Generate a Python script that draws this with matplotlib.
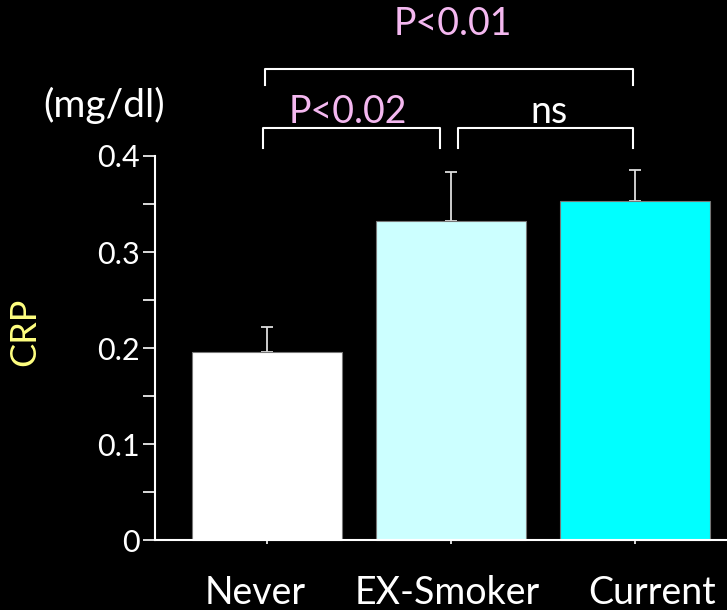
import matplotlib.pyplot as plt
from matplotlib.transforms import ScaledTranslation
import numpy as np

plt.rcParams['font.family'] = ['Lato', 'DejaVu Sans']

groups = ['Never', 'EX-Smoker', 'Current']
crp = [0.196, 0.332, 0.353]
err = [0.026, 0.051, 0.032]
bar_colors = ['#ffffff', '#ccffff', '#00ffff']

pink = '#f4b8f0'
fig = plt.figure(figsize=(7.27, 6.10), dpi=100, facecolor='black')
ax = fig.add_axes([155 / 727, 70 / 610, 572 / 727, 384 / 610], facecolor='black')

x = np.arange(len(groups))
ax.bar(x, crp, width=0.815, color=bar_colors, edgecolor='#777777', linewidth=0.8,
       zorder=2, clip_on=False)
ax.errorbar(x, crp, yerr=[np.zeros(3), err], fmt='none', ecolor='#dddddd',
            elinewidth=1.3, capsize=4, capthick=1.3, zorder=1, clip_on=False)

ax.set_xlim(-0.609, 2.5)
ax.set_ylim(0, 0.4)
ax.set_yticks([0, 0.1, 0.2, 0.3, 0.4])
ax.set_yticklabels(['0', '0.1', '0.2', '0.3', '0.4'])
ax.set_yticks(np.arange(0.05, 0.4, 0.1), minor=True)
ax.set_xticks(x)
ax.set_xticklabels(groups)

for s in ['top', 'right']:
    ax.spines[s].set_visible(False)
for s in ['left', 'bottom']:
    ax.spines[s].set_color('white')
    ax.spines[s].set_linewidth(1.5)
ax.tick_params(axis='y', which='both', colors='white', length=9, width=1.2,
               labelsize=22, pad=2)
ax.tick_params(axis='x', colors='white', length=3, width=1.2, labelsize=27, pad=22)

# labels in the original sit a little off the tick centres
for lab, dx in zip(ax.get_xticklabels(), [-12, -4, 17]):
    lab.set_transform(lab.get_transform() + ScaledTranslation(dx / 100, 0, fig.dpi_scale_trans))

ax.set_ylabel('CRP', color='#ffff80', fontsize=26)
ax.yaxis.set_label_coords((25 - 155) / 572, (540 - 332) / 384)
ax.yaxis.label.set_va('center')
fig.text(104 / 727, 1 - 105 / 610, '(mg/dl)', color='white', fontsize=28,
         ha='center', va='center')

# significance brackets
def bracket(x0, x1, y, leg):
    ax.plot([x0, x0, x1, x1], [y - leg, y, y, y - leg], color='white', lw=1.5,
            clip_on=False)

bracket(-0.01, 1.99, 0.4906, 0.017)
bracket(-0.02, 0.94, 0.429, 0.021)
bracket(1.04, 1.99, 0.429, 0.021)
ax.text(1.01, 0.538, 'P<0.01', color=pink, fontsize=27, ha='center', va='center',
        clip_on=False)
ax.text(0.44, 0.446, 'P<0.02', color=pink, fontsize=27, ha='center', va='center',
        clip_on=False)
ax.text(1.53, 0.446, 'ns', color='white', fontsize=27, ha='center', va='center',
        clip_on=False)

fig.savefig('out.png', dpi=100, facecolor='black')
